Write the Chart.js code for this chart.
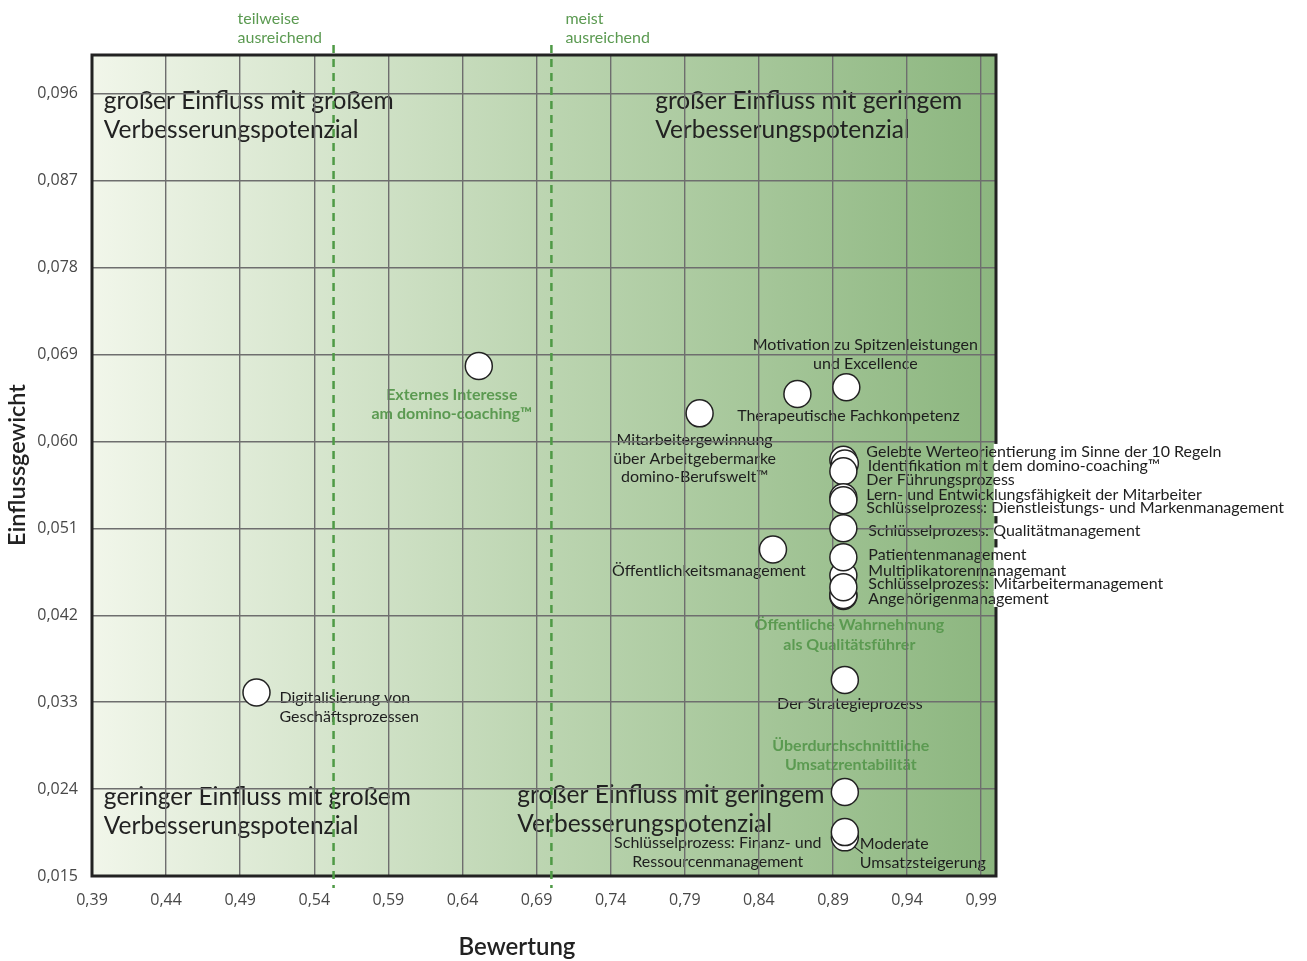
<!DOCTYPE html>
<html><head><meta charset="utf-8">
<script src="https://cdn.jsdelivr.net/npm/chart.js@4"></script>
<style>html,body{margin:0;padding:0;background:#fff}#wrap{width:1307px;height:961px;position:relative}</style>
</head><body><div id="wrap"><canvas id="c"></canvas></div>
<script>
// ---- data ----
const categories = [
  "Externes Interesse am domino-coaching™",
  "Digitalisierung von Geschäftsprozessen",
  "Mitarbeitergewinnung über Arbeitgebermarke domino-Berufswelt™",
  "Therapeutische Fachkompetenz",
  "Motivation zu Spitzenleistungen und Excellence",
  "Öffentlichkeitsmanagement",
  "Gelebte Werteorientierung im Sinne der 10 Regeln",
  "Identifikation mit dem domino-coaching™",
  "Der Führungsprozess",
  "Lern- und Entwicklungsfähigkeit der Mitarbeiter",
  "Schlüsselprozess: Dienstleistungs- und Markenmanagement",
  "Schlüsselprozess: Qualitätmanagement",
  "Öffentliche Wahrnehmung als Qualitätsführer",
  "Angehörigenmanagement",
  "Multiplikatorenmanagemant",
  "Patientenmanagement",
  "Schlüsselprozess: Mitarbeitermanagement",
  "Der Strategieprozess",
  "Überdurchschnittliche Umsatzrentabilität",
  "Moderate Umsatzsteigerung",
  "Schlüsselprozess: Finanz- und Ressourcenmanagement"
];
const bewertung = [0.651,0.501,0.800,0.866,0.899,0.8495,0.897,0.898,0.897,0.897,0.897,0.897,0.897,0.897,0.897,0.897,0.897,0.898,0.898,0.898,0.898];
const einflussgewicht = [0.0678,0.0340,0.0629,0.0649,0.0656,0.0488,0.0581,0.0577,0.0569,0.0542,0.0539,0.0510,0.0440,0.0441,0.0461,0.0480,0.0449,0.0353,0.0237,0.0190,0.01955];
const xTicks = [0.39,0.44,0.49,0.54,0.59,0.64,0.69,0.74,0.79,0.84,0.89,0.94,0.99];
const xTickLabels = ["0,39","0,44","0,49","0,54","0,59","0,64","0,69","0,74","0,79","0,84","0,89","0,94","0,99"];
const yTicks = [0.015,0.024,0.033,0.042,0.051,0.060,0.069,0.078,0.087,0.096];
const yTickLabels = ["0,015","0,024","0,033","0,042","0,051","0,060","0,069","0,078","0,087","0,096"];
const thresholds = [0.553, 0.70];
const thresholdLabels = [["teilweise","ausreichend"],["meist","ausreichend"]];
const quadrantTexts = [
  {x:0.398, y:0.0952, lines:["großer Einfluss mit großem","Verbesserungspotenzial"]},
  {x:0.770, y:0.0952, lines:["großer Einfluss mit geringem","Verbesserungspotenzial"]},
  {x:0.398, y:0.0232, lines:["geringer Einfluss mit großem","Verbesserungspotenzial"]},
  {x:0.677, y:0.0234, lines:["großer Einfluss mit geringem","Verbesserungspotenzial"]}
];

// ---- label layout (offsets in px from point, styles) ----
const labelLayout = [
  {lines:["Externes Interesse","am domino-coaching™"], dx:-27, dy:[29,48], align:"center", green:true},
  {lines:["Digitalisierung von","Geschäftsprozessen"], dx:23, dy:[5,24], align:"left"},
  {lines:["Mitarbeitergewinnung","über Arbeitgebermarke","domino-Berufswelt™"], dx:-5, dy:[27,46,64], align:"center"},
  {lines:["Therapeutische Fachkompetenz"], dx:51, dy:[22], align:"center"},
  {lines:["Motivation zu Spitzenleistungen","und Excellence"], dx:19, dy:[-42,-23], align:"center"},
  {lines:["Öffentlichkeitsmanagement"], dx:-64, dy:[21], align:"center"},
  {lines:["Gelebte Werteorientierung im Sinne der 10 Regeln"], dx:23, dy:[-8], align:"left"},
  {lines:["Identifikation mit dem domino-coaching™"], dx:23, dy:[2], align:"left"},
  {lines:["Der Führungsprozess"], dx:23, dy:[9], align:"left"},
  {lines:["Lern- und Entwicklungsfähigkeit der Mitarbeiter"], dx:23, dy:[-3], align:"left"},
  {lines:["Schlüsselprozess: Dienstleistungs- und Markenmanagement"], dx:23, dy:[8], align:"left"},
  {lines:["Schlüsselprozess: Qualitätmanagement"], dx:25, dy:[3], align:"left"},
  {lines:["Öffentliche Wahrnehmung","als Qualitätsführer"], dx:6, dy:[29,49], align:"center", green:true},
  {lines:["Angehörigenmanagement"], dx:25, dy:[4], align:"left"},
  {lines:["Multiplikatorenmanagemant"], dx:25, dy:[-5], align:"left"},
  {lines:["Patientenmanagement"], dx:25, dy:[-2], align:"left"},
  {lines:["Schlüsselprozess: Mitarbeitermanagement"], dx:25, dy:[-3], align:"left"},
  {lines:["Der Strategieprozess"], dx:5, dy:[24], align:"center"},
  {lines:["Überdurchschnittliche","Umsatzrentabilität"], dx:6, dy:[-46,-27], align:"center", green:true},
  {lines:["Moderate","Umsatzsteigerung"], dx:15, dy:[6,25], align:"left", leader:true},
  {lines:["Schlüsselprozess: Finanz- und","Ressourcenmanagement"], dx:-127, dy:[11,30], align:"center"}
];

const FONT = "Lato, 'Noto Sans', sans-serif";
const GREEN = "#5b9a51";

function drawPointLabels(chart, onlyOutside) {
  const ctx = chart.ctx, xs = chart.scales.x, ys = chart.scales.y, area = chart.chartArea;
  ctx.save();
  ctx.textBaseline = "middle";
  labelLayout.forEach((L, i) => {
    const px = xs.getPixelForValue(bewertung[i]), py = ys.getPixelForValue(einflussgewicht[i]);
    ctx.font = (L.green ? "bold " : "") + "16px " + FONT;
    ctx.fillStyle = L.green ? GREEN : "#1e1e1e";
    ctx.textAlign = L.align;
    L.lines.forEach((t, k) => {
      const x = px + L.dx, y = py + L.dy[k];
      const w = ctx.measureText(t).width;
      const x0 = L.align === "center" ? x - w/2 : x;
      if (onlyOutside) {
        if (x0 + w > area.right - 3) {
          ctx.save();
          ctx.beginPath(); ctx.rect(area.right - 2.5, y - 8, 6, 16); ctx.clip();
          ctx.fillStyle = "#ffffff"; ctx.fillRect(area.right - 2.5, y - 8, 6, 16);
          ctx.fillStyle = L.green ? GREEN : "#1e1e1e";
          ctx.fillText(t, x, y);
          ctx.restore();
        }
      } else {
        ctx.fillText(t, x, y);
      }
    });
    if (L.leader && !onlyOutside) {
      ctx.strokeStyle = "#1e1e1e"; ctx.lineWidth = 1.2;
      ctx.beginPath(); ctx.moveTo(px + 9, py + 9); ctx.lineTo(px + 18, py + 16); ctx.stroke();
    }
  });
  ctx.restore();
}

const decor = {
  id: "decor",
  beforeDraw(chart) {
    const ctx = chart.ctx, a = chart.chartArea, xs = chart.scales.x, ys = chart.scales.y;
    ctx.save();
    const g = ctx.createLinearGradient(a.left, 0, a.right, 0);
    g.addColorStop(0, "#f1f6ea");
    g.addColorStop(0.5, "#bcd5b1");
    g.addColorStop(1, "#8cb67f");
    ctx.fillStyle = g;
    ctx.fillRect(a.left, a.top, a.right - a.left, a.bottom - a.top);
    // quadrant texts
    ctx.font = "24.5px " + FONT;
    ctx.fillStyle = "#222";
    ctx.textBaseline = "middle"; ctx.textAlign = "left";
    quadrantTexts.forEach(q => {
      const x = xs.getPixelForValue(q.x), y = ys.getPixelForValue(q.y);
      q.lines.forEach((t, k) => ctx.fillText(t, x, y + k * 29));
    });
    ctx.restore();
    drawPointLabels(chart, false);
  },
  beforeDatasetsDraw(chart) {
    const ctx = chart.ctx, a = chart.chartArea, xs = chart.scales.x;
    ctx.save();
    ctx.strokeStyle = "#222"; ctx.lineWidth = 3;
    ctx.strokeRect(a.left, a.top, a.right - a.left, a.bottom - a.top);
    // thresholds
    ctx.strokeStyle = "#4f9a46"; ctx.lineWidth = 2.5; ctx.setLineDash([8, 6]);
    thresholds.forEach(t => {
      const x = xs.getPixelForValue(t);
      ctx.beginPath(); ctx.moveTo(x, a.top - 10); ctx.lineTo(x, a.bottom + 12); ctx.stroke();
    });
    ctx.setLineDash([]);
    ctx.font = "16px " + FONT; ctx.fillStyle = GREEN; ctx.textBaseline = "middle";
    ctx.textAlign = "left";
    thresholdLabels[0].forEach((t, k) => ctx.fillText(t, xs.getPixelForValue(thresholds[0]) - 96, 19 + k * 19));
    thresholdLabels[1].forEach((t, k) => ctx.fillText(t, xs.getPixelForValue(thresholds[1]) + 14, 19 + k * 19));
    // axis titles
    ctx.fillStyle = "#222"; ctx.font = "600 24px " + FONT; ctx.textAlign = "center";
    ctx.fillText("Bewertung", (a.left + a.right) / 2 - 27, 947);
    ctx.font = "600 23.5px " + FONT;
    ctx.save(); ctx.translate(17, 465); ctx.rotate(-Math.PI / 2);
    ctx.fillText("Einflussgewicht", 0, 0); ctx.restore();
    ctx.restore();
  },
  afterDatasetsDraw(chart) {
    drawPointLabels(chart, true);
  }
};

new Chart(document.getElementById("c"), {
  type: "scatter",
  data: {
    datasets: [{
      label: "Kriterien",
      data: bewertung.map((x, i) => ({x, y: einflussgewicht[i], name: categories[i]})),
      pointRadius: 13.5,
      pointHoverRadius: 13.5,
      pointBackgroundColor: "#ffffff",
      pointBorderColor: "#222",
      pointBorderWidth: 1.5
    }]
  },
  options: {
    responsive: true, maintainAspectRatio: false, animation: false,
    layout: {padding: {top: 55, right: 311, left: 0, bottom: 0}},
    plugins: {legend: {display: false}, tooltip: {enabled: false}},
    events: [],
    scales: {
      x: {
        type: "linear", min: 0.39, max: 1.0,
        afterBuildTicks: s => { s.ticks = xTicks.map(v => ({value: v})); },
        afterFit: s => { s.height = 85; },
        grid: {color: "#6e6e6e", lineWidth: 1.4, drawTicks: false},
        border: {display: false},
        ticks: {padding: 15, color: "#484848", font: {family: "'Open Sans', sans-serif", size: 16}, callback: (v, i) => xTickLabels[i], maxRotation: 0, autoSkip: false}
      },
      y: {
        type: "linear", min: 0.015, max: 0.1,
        afterBuildTicks: s => { s.ticks = yTicks.map(v => ({value: v})); },
        afterFit: s => { s.width = 92; },
        grid: {color: "#6e6e6e", lineWidth: 1.4, drawTicks: false},
        border: {display: false},
        ticks: {padding: 14, color: "#484848", font: {family: "'Open Sans', sans-serif", size: 16}, callback: (v, i) => yTickLabels[i], autoSkip: false}
      }
    }
  },
  plugins: [decor]
});
</script></body></html>
